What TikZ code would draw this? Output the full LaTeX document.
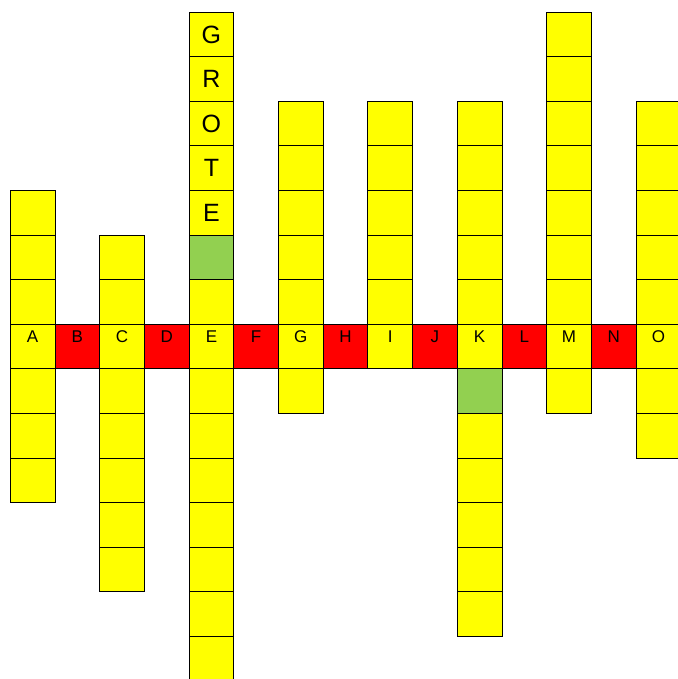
\documentclass[tikz,border=0pt]{standalone}
\usepackage{fontspec}
\setmainfont{Liberation Sans}
\definecolor{cgreen}{RGB}{146,208,80}
\definecolor{cyel}{RGB}{255,255,0}
\definecolor{cred}{RGB}{255,0,0}
\begin{document}
\begin{tikzpicture}[x=0.75pt,y=-0.75pt,
  cell/.style={draw=black,line width=0.75pt,minimum width=33.525pt,minimum height=33.45pt,inner sep=0pt,outer sep=0pt,anchor=center},
  redcell/.style={cell,fill=cred},
  lab/.style={font=\fontsize{12.75}{14}\selectfont,inner sep=0pt},
  biglab/.style={font=\fontsize{18.75}{21}\selectfont,inner sep=0pt}]
\useasboundingbox (0,0) rectangle (678,679);
\clip (0,0) rectangle (678,679);
% yellow columns: column index / top row / bottom row
\foreach \c/\t/\b in {0/-3/3, 2/-2/5, 4/-7/7, 6/-5/1, 8/-5/0, 10/-5/6, 12/-7/1, 14/-5/2}{
  \foreach \r in {\t,...,\b}{
    \pgfmathtruncatemacro{\rr}{\r+7}
    \def\cf{cyel}
    \ifnum\c=4 \ifnum\r=-2 \def\cf{cgreen}\fi\fi
    \ifnum\c=10 \ifnum\r=1 \def\cf{cgreen}\fi\fi
    \node[cell,fill=\cf] (c\c r\rr) at ({10.3+44.7*(\c+0.5)},{324.3+44.6*(\r+0.5)}) {};
  }
}
% red cells in the letter row
\foreach \c in {1,3,5,7,9,11,13}{
  \node[redcell] (c\c r7) at ({10.3+44.7*(\c+0.5)},{324.3+44.6*0.5}) {};
}
% letter row labels
\foreach \c/\l in {0/A,1/B,2/C,3/D,4/E,5/F,6/G,7/H,8/I,9/J,10/K,11/L,12/M,13/N,14/O}{
  \node[lab] (t\c) at ([yshift=7.1pt]c\c r7.center) {\l};
}
% GROTE
\foreach \rr/\l in {0/G,1/R,2/O,3/T,4/E}{
  \node[biglab] (g\rr) at (c4r\rr.center) {\l};
}
\end{tikzpicture}
\end{document}
